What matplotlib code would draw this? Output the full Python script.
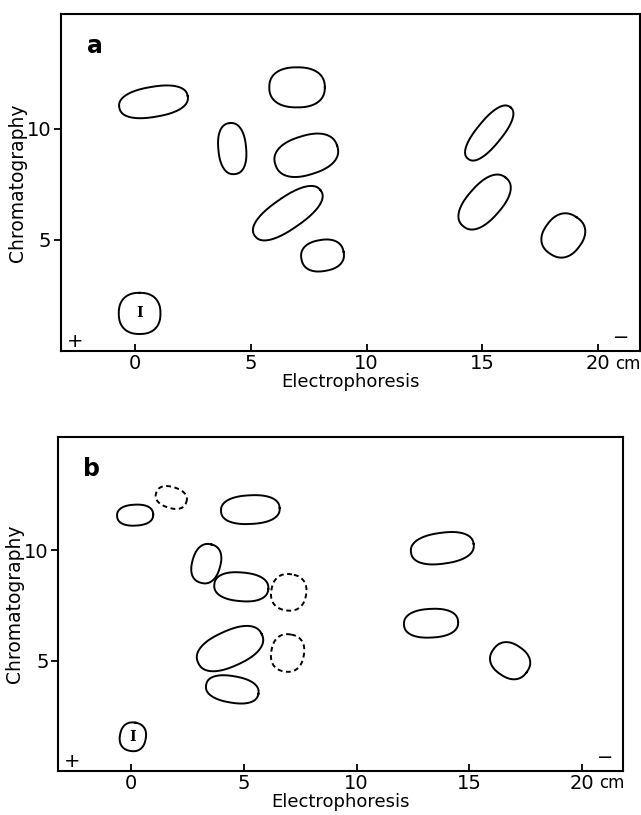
import numpy as np
import matplotlib.pyplot as plt

# spots on map a (electrophoresis cm, chromatography cm)
a_x = [0.8, 7.0, 4.2, 7.4, 6.6, 8.1, 0.2, 15.3, 15.1, 18.5]
a_y = [11.2, 11.85, 9.1, 8.8, 6.2, 4.3, 1.7, 9.8, 6.7, 5.2]
a_w = [3.0, 2.4, 2.3, 2.8, 3.5, 1.85, 1.85, 2.95, 2.85, 2.0]
a_h = [1.35, 1.8, 1.2, 1.75, 1.4, 1.4, 1.8, 1.1, 1.5, 1.7]
a_ang = [10, 0, 95, 18, 36, 10, 90, 52, 50, 55]
a_dash = [False] * 10

# spots on map b
b_x = [0.2, 1.8, 5.3, 3.35, 4.9, 7.0, 4.4, 6.95, 4.5, 0.1, 13.8, 13.3, 16.8]
b_y = [11.6, 12.4, 11.85, 9.4, 8.35, 8.1, 5.55, 5.35, 3.7, 1.55, 10.1, 6.7, 5.0]
b_w = [1.6, 1.4, 2.6, 1.8, 2.4, 1.65, 3.1, 1.7, 2.35, 1.3, 2.8, 2.4, 1.8]
b_h = [0.95, 0.95, 1.3, 1.25, 1.3, 1.55, 1.6, 1.45, 1.2, 1.15, 1.4, 1.3, 1.5]
b_ang = [3, -18, 3, 75, -5, 80, 25, 80, -10, 80, 8, 3, -35]
b_dash = [False, True, False, False, False, True, False, True, False, False,
          False, False, False]

xticks = [0, 5, 10, 15, 20]
yticks = [5, 10]


def blob(cx, cy, w, h, ang, n=2.35):
    # rounded superellipse outline, rotated
    t = np.linspace(0, 2 * np.pi, 200)
    c, s = np.cos(t), np.sin(t)
    u = w / 2 * np.sign(c) * np.abs(c) ** (2 / n)
    v = h / 2 * np.sign(s) * np.abs(s) ** (2 / n)
    r = np.deg2rad(ang)
    x = cx + u * np.cos(r) - v * np.sin(r)
    y = cy + u * np.sin(r) + v * np.cos(r)
    return x, y


def draw_map(ax, xs, ys, ws, hs, angs, dash, letter, origin):
    for i in range(len(xs)):
        x, y = blob(xs[i], ys[i], ws[i], hs[i], angs[i])
        ax.plot(x, y, color='black', lw=1.4,
                ls=(0, (2.5, 1.8)) if dash[i] else '-')
    # the origin spot
    ax.text(xs[origin], ys[origin], 'I', family='DejaVu Serif', fontsize=10,
            fontweight='bold', ha='center', va='center')
    ax.set_xlim(-3.2, 21.8)
    ax.set_ylim(0, 15.15)
    ax.set_xticks(xticks)
    ax.set_xticklabels([str(v) for v in xticks])
    ax.set_yticks(yticks)
    ax.tick_params(axis='x', direction='in', length=5, width=1.3, labelsize=14, pad=2)
    ax.tick_params(axis='y', direction='out', length=5, width=1.3, labelsize=14, pad=2)
    for sp in ax.spines.values():
        sp.set_linewidth(1.5)
    ax.set_xlabel('Electrophoresis', fontsize=13, labelpad=0)
    ax.set_ylabel('Chromatography', fontsize=13.5, labelpad=0)
    ax.annotate('cm', xy=(20, 0), xytext=(12, -2.5), textcoords='offset points',
                ha='left', va='top', fontsize=12)
    ax.text(-1.75, 13.7, letter, fontsize=17, fontweight='bold', ha='center', va='center')
    ax.text(-2.6, 0.45, '+', fontsize=14, ha='center', va='center')
    ax.text(21.0, 0.6, '\u2212', fontsize=14, ha='center', va='center')


fig = plt.figure(figsize=(6.41, 8.15), dpi=100)
ax1 = fig.add_axes([0.095, 0.569, 0.903, 0.414])
ax2 = fig.add_axes([0.091, 0.054, 0.881, 0.41])

draw_map(ax1, a_x, a_y, a_w, a_h, a_ang, a_dash, 'a', 6)
draw_map(ax2, b_x, b_y, b_w, b_h, b_ang, b_dash, 'b', 9)

fig.savefig('out.png', dpi=100)
